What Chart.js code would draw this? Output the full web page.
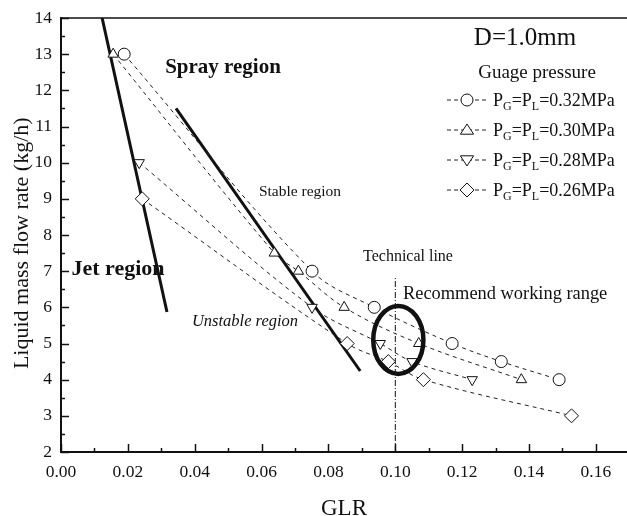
<!DOCTYPE html>
<html>
<head>
<meta charset="utf-8">
<script src="https://cdn.jsdelivr.net/npm/chart.js@4.4.1/dist/chart.umd.min.js"></script>
<style>
html,body{margin:0;padding:0;background:#fff;}
#wrap{width:627px;height:516px;position:relative;}
</style>
</head>
<body>
<div id="wrap"><canvas id="c" width="627" height="516"></canvas></div>
<script>
// ---- data ----
const glr032 = [0.0189, 0.0751, 0.0937, 0.1170, 0.1317, 0.1490];
const flow032 = [13.0, 7.0, 6.0, 5.0, 4.5, 4.0];
const glr030 = [0.0156, 0.0638, 0.0710, 0.0847, 0.1070, 0.1377];
const flow030 = [13.0, 7.5, 7.0, 6.0, 5.0, 4.0];
const glr028 = [0.0234, 0.0751, 0.0955, 0.1050, 0.1230];
const flow028 = [10.0, 6.0, 5.0, 4.5, 4.0];
const glr026 = [0.0243, 0.0856, 0.0979, 0.1084, 0.1527];
const flow026 = [9.0, 5.0, 4.5, 4.0, 3.0];
const pressures = ['0.32', '0.30', '0.28', '0.26'];

// boundary lines (GLR, flow)
const jetLineGlr = [0.0123, 0.0317];
const jetLineFlow = [14.0, 5.87];
const sprayLineGlr = [0.0344, 0.0895];
const sprayLineFlow = [11.5, 4.24];
const techLineGlr = [0.10, 0.10];
const techLineFlow = [2.0, 6.85];
// recommended working range ellipse: centre GLR, centre flow, half-width GLR, half-height flow
const ellipseGlr = [0.1009, 0.0075];
const ellipseFlow = [5.10, 0.94];

const xTicks = [0, 0.02, 0.04, 0.06, 0.08, 0.10, 0.12, 0.14, 0.16];
const yTicks = [2, 3, 4, 5, 6, 7, 8, 9, 10, 11, 12, 13, 14];

const FONT = "'Liberation Serif', 'Times New Roman', serif";
const zip = (xs, ys) => xs.map((x, i) => ({x: x, y: ys[i]}));

function seriesDs(xs, ys, style, rot) {
  return {
    data: zip(xs, ys), showLine: true, borderColor: '#222', borderWidth: 1,
    borderDash: [4, 4], tension: 0.35, pointStyle: style, pointRotation: rot || 0,
    pointRadius: style === 'rectRot' ? 7 : 6, pointBackgroundColor: '#fff',
    pointBorderColor: '#111', pointBorderWidth: 1, fill: false
  };
}
function lineDs(xs, ys, w, dash) {
  return {
    data: zip(xs, ys), showLine: true, borderColor: '#111', borderWidth: w,
    borderDash: dash || [], pointRadius: 0, tension: 0, fill: false
  };
}

const overlay = {
  id: 'overlay',
  afterDatasetsDraw(chart) {
    const ctx = chart.ctx, xs = chart.scales.x, ys = chart.scales.y, a = chart.chartArea;
    ctx.save();
    // ellipse
    const cx = xs.getPixelForValue(ellipseGlr[0]), cy = ys.getPixelForValue(ellipseFlow[0]);
    const rx = xs.getPixelForValue(ellipseGlr[0] + ellipseGlr[1]) - cx;
    const ry = cy - ys.getPixelForValue(ellipseFlow[0] + ellipseFlow[1]);
    ctx.beginPath(); ctx.ellipse(cx, cy, rx, ry, 0, 0, Math.PI * 2);
    ctx.lineWidth = 4.5; ctx.strokeStyle = '#111'; ctx.stroke();

    // top frame line
    ctx.beginPath(); ctx.moveTo(a.left, a.top); ctx.lineTo(a.right, a.top);
    ctx.lineWidth = 1.5; ctx.strokeStyle = '#111'; ctx.stroke();
    // inward ticks
    ctx.lineWidth = 1.5;
    for (let v = 0; v <= 0.1695; v += 0.01) {
      const px = Math.round(xs.getPixelForValue(v)) + 0.5;
      const major = Math.round(v * 100) % 2 === 0;
      ctx.beginPath(); ctx.moveTo(px, a.bottom); ctx.lineTo(px, a.bottom - (major ? 8 : 4)); ctx.stroke();
    }
    for (let v = 2; v <= 14; v += 0.5) {
      const py = Math.round(ys.getPixelForValue(v)) + 0.5;
      const major = Math.abs(v - Math.round(v)) < 1e-6;
      ctx.beginPath(); ctx.moveTo(a.left, py); ctx.lineTo(a.left + (major ? 8 : 4), py); ctx.stroke();
    }

    // text annotations
    ctx.fillStyle = '#111'; ctx.textAlign = 'center'; ctx.textBaseline = 'middle';
    const txt = (s, x, y, f) => { ctx.font = f; ctx.fillText(s, x, y); };
    txt('D=1.0mm', 525, 38, `25px ${FONT}`);
    txt('Guage pressure', 537, 73, `19px ${FONT}`);
    txt('Spray region', 223, 68, `bold 21px ${FONT}`);
    txt('Jet region', 118, 269, `bold 22px ${FONT}`);
    txt('Stable region', 300, 192, `15.5px ${FONT}`);
    txt('Unstable region', 245, 322, `italic 16.5px ${FONT}`);
    txt('Technical line', 408, 257, `16px ${FONT}`);
    ctx.textAlign = 'left';
    txt('Recommend working range', 403, 294, `18.4px ${FONT}`);

    // legend
    const rowY = [100, 130, 160, 190];
    const shapes = ['circle', 'up', 'down', 'diamond'];
    pressures.forEach((p, i) => {
      const y = rowY[i];
      ctx.beginPath(); ctx.setLineDash([4, 3]); ctx.lineWidth = 1; ctx.strokeStyle = '#222';
      ctx.moveTo(447, y); ctx.lineTo(489, y); ctx.stroke(); ctx.setLineDash([]);
      drawMarker(ctx, shapes[i], 467, y);
      drawRich(ctx, [['P', 0], ['G', 1], ['=P', 0], ['L', 1], ['=' + p + 'MPa', 0]], 493, y);
    });
    ctx.restore();
  }
};

function drawMarker(ctx, s, x, y) {
  ctx.beginPath(); ctx.lineWidth = 1; ctx.strokeStyle = '#111'; ctx.fillStyle = '#fff';
  const r = 6;
  if (s === 'circle') ctx.arc(x, y, r, 0, Math.PI * 2);
  else if (s === 'up') { ctx.moveTo(x, y - r); ctx.lineTo(x + r * 1.1, y + r * 0.7); ctx.lineTo(x - r * 1.1, y + r * 0.7); ctx.closePath(); }
  else if (s === 'down') { ctx.moveTo(x, y + r); ctx.lineTo(x + r * 1.1, y - r * 0.7); ctx.lineTo(x - r * 1.1, y - r * 0.7); ctx.closePath(); }
  else { const d = 7; ctx.moveTo(x, y - d); ctx.lineTo(x + d, y); ctx.lineTo(x, y + d); ctx.lineTo(x - d, y); ctx.closePath(); }
  ctx.fill(); ctx.stroke();
}
function drawRich(ctx, parts, x, y) {
  ctx.textAlign = 'left'; ctx.textBaseline = 'alphabetic'; ctx.fillStyle = '#111';
  let cx = x;
  parts.forEach(([t, sub]) => {
    ctx.font = sub ? `12px ${FONT}` : `18px ${FONT}`;
    ctx.fillText(t, cx, y + (sub ? 10 : 6));
    cx += ctx.measureText(t).width;
  });
}

new Chart(document.getElementById('c'), {
  type: 'scatter',
  data: {
    datasets: [
      seriesDs(glr032, flow032, 'circle'),
      seriesDs(glr030, flow030, 'triangle'),
      seriesDs(glr028, flow028, 'triangle', 180),
      seriesDs(glr026, flow026, 'rectRot'),
      lineDs(jetLineGlr, jetLineFlow, 3),
      lineDs(sprayLineGlr, sprayLineFlow, 3),
      lineDs(techLineGlr, techLineFlow, 1, [6, 2, 1, 2])
    ]
  },
  options: {
    responsive: false, animation: false, devicePixelRatio: 1,
    layout: {autoPadding: false, padding: {top: 18, right: 0, left: 0, bottom: 0}},
    plugins: {legend: {display: false}, tooltip: {enabled: false}},
    scales: {
      x: {
        type: 'linear', min: 0, max: 0.1693,
        afterBuildTicks: s => { s.ticks = xTicks.map(v => ({value: v})); },
        afterFit: s => { s.height = 64; s.paddingRight = 0; s.paddingLeft = 0; },
        grid: {display: false, drawTicks: false},
        border: {display: true, color: '#111', width: 2},
        ticks: {color: '#111', padding: 10, maxRotation: 0, autoSkip: false,
          font: {family: FONT, size: 17.5}, callback: v => Number(v).toFixed(2)},
        title: {display: true, text: 'GLR', color: '#111', font: {family: FONT, size: 23, lineHeight: 1},
          padding: {top: 0, bottom: -4}}
      },
      y: {
        type: 'linear', min: 2, max: 14,
        afterBuildTicks: s => { s.ticks = yTicks.map(v => ({value: v})); },
        afterFit: s => { s.width = 61; s.paddingTop = 0; s.paddingBottom = 0; },
        grid: {display: false, drawTicks: false},
        border: {display: true, color: '#111', width: 2},
        ticks: {color: '#111', padding: 9, autoSkip: false, font: {family: FONT, size: 17.5}},
        title: {display: true, text: 'Liquid mass flow rate (kg/h)\u00a0\u00a0\u00a0', color: '#111',
          font: {family: FONT, size: 22}, padding: {top: 9, bottom: 0}}
      }
    }
  },
  plugins: [overlay]
});
</script>
</body>
</html>
